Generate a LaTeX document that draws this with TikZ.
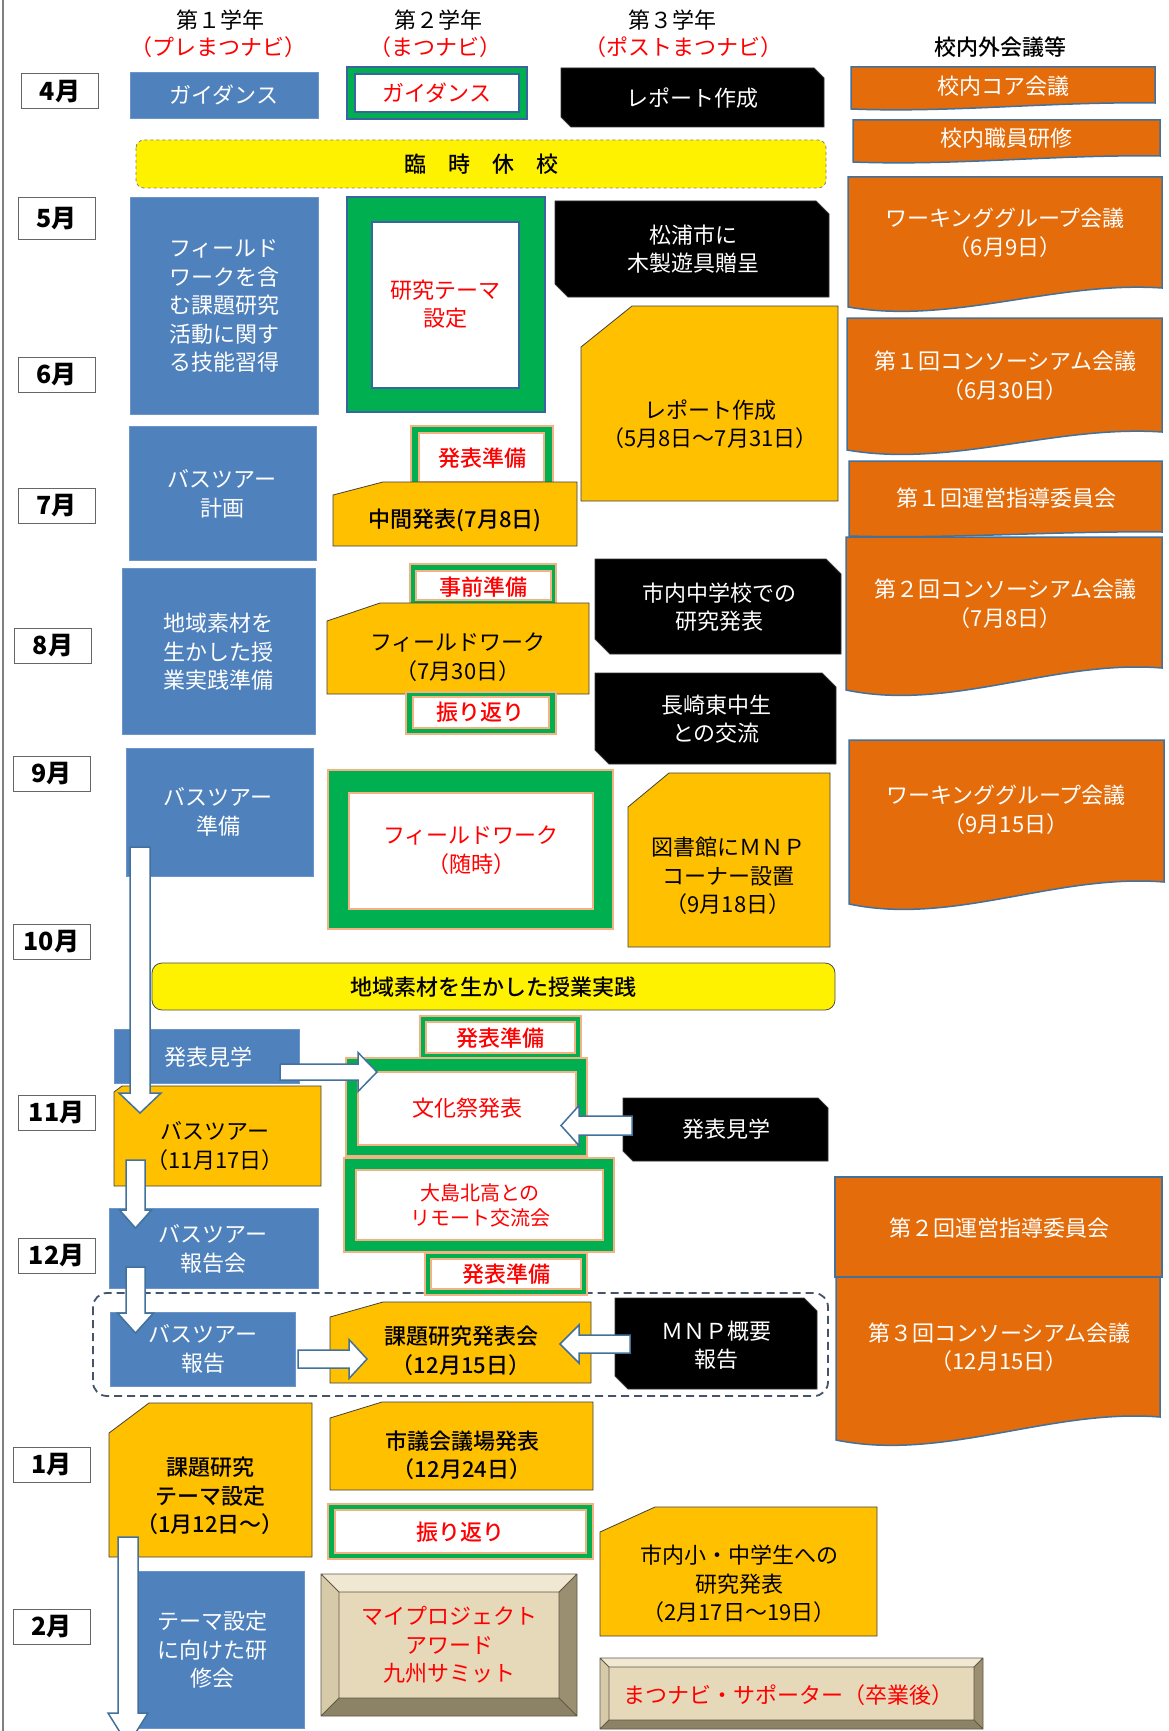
\documentclass[tikz,border=0pt]{standalone}
\usepackage{fontspec}
\setmainfont{Noto Sans CJK JP}[BoldFont={Noto Sans CJK JP Medium}]
\newfontfamily\monthfont{Noto Sans CJK JP}
\definecolor{bbox}{HTML}{4F81BD}
\definecolor{bline}{HTML}{6C95C8}
\definecolor{gfr}{HTML}{00B050}
\definecolor{ofr}{HTML}{F4B183}
\definecolor{navy}{HTML}{3A64A0}
\definecolor{ybox}{HTML}{FFC000}
\definecolor{obox}{HTML}{E46C0A}
\definecolor{oline}{HTML}{41719C}
\definecolor{arrline}{HTML}{41719C}
\definecolor{dashc}{HTML}{44546A}
\definecolor{redt}{HTML}{FF0000}
\definecolor{bvface}{HTML}{E6D9BA}
\definecolor{bvtop}{HTML}{F1E8D4}
\definecolor{bvleft}{HTML}{D7CAA8}
\definecolor{bvright}{HTML}{9A8F70}
\definecolor{bvbot}{HTML}{8C8265}
\definecolor{bvedge}{HTML}{5E5848}
\tikzset{
 txt/.style={align=center, inner sep=0pt, font=\fontsize{22}{28.5}\selectfont},
 wtxt/.style={txt, text=white},
 rtxt/.style={txt, text=redt},
 ktxt/.style={txt, text=black},
 boldf/.style={font=\fontsize{22}{28.5}\selectfont\bfseries},
 smallf/.style={font=\fontsize{20}{25}\selectfont},
 bluebox/.style={fill=bbox, draw=bline, line width=0.8pt},
 ybx/.style={fill=ybox, draw=black!75, line width=0.8pt},
 obx/.style={fill=obox, draw=oline, line width=1.5pt},
 snipk/.style={fill=black, draw=black!80, line width=0.8pt},
 blkarrow/.style={fill=white, draw=arrline, line width=1.5pt, line join=miter},
 monthbox/.style={draw=gray!80!black, line width=1pt, fill=white, minimum width=77, minimum height=35, inner sep=0pt, font=\monthfont\fontsize{25}{25}\selectfont\bfseries},
}
\newcommand\cutbox[6]{\filldraw[ybx] (#1,#2+#6) -- (#1+#5,#2) -- (#3,#2) -- (#3,#4) -- (#1,#4) -- cycle;}
\newcommand\snipbox[5]{\filldraw[snipk] (#1,#2) -- (#3-#5,#2) -- (#3,#2+#5) -- (#3,#4) -- (#1+#5,#4) -- (#1,#4-#5) -- cycle;}
\newcommand\wavebox[6]{\filldraw[obx] (#1,#2) -- (#3,#2) -- (#3,#5) .. controls ({#1+0.66*(#3-#1)},{#5-0.4*#6}) and ({#1+0.33*(#3-#1)},{#4+#6}) .. (#1,#4) -- cycle;}
\newcommand\gframe[9]{\filldraw[fill=gfr, draw=#9, line width=1.3pt] (#1,#2) rectangle (#3,#4);
 \filldraw[fill=white, draw=#9, line width=1.3pt] (#5,#6) rectangle (#7,#8);}
\newcommand\bevelbox[5]{%
 \fill[bvtop] (#1,#2) -- (#3,#2) -- (#3-#5,#2+#5) -- (#1+#5,#2+#5) -- cycle;
 \fill[bvbot] (#1,#4) -- (#3,#4) -- (#3-#5,#4-#5) -- (#1+#5,#4-#5) -- cycle;
 \fill[bvleft] (#1,#2) -- (#1+#5,#2+#5) -- (#1+#5,#4-#5) -- (#1,#4) -- cycle;
 \fill[bvright] (#3,#2) -- (#3-#5,#2+#5) -- (#3-#5,#4-#5) -- (#3,#4) -- cycle;
 \fill[bvface] (#1+#5,#2+#5) rectangle (#3-#5,#4-#5);
 \draw[bvedge, line width=0.8pt] (#1,#2) rectangle (#3,#4) (#1+#5,#2+#5) rectangle (#3-#5,#4-#5) (#1,#2) -- (#1+#5,#2+#5) (#3,#2) -- (#3-#5,#2+#5) (#1,#4) -- (#1+#5,#4-#5) (#3,#4) -- (#3-#5,#4-#5);}
\newcommand\dnarrow[6]{\filldraw[blkarrow] (#1-#3,#2) -- (#1+#3,#2) -- (#1+#3,#5) -- (#1+#4,#5) -- (#1,#6) -- (#1-#4,#5) -- (#1-#3,#5) -- cycle;}
\newcommand\hzarrow[6]{\filldraw[blkarrow] (#2,#1-#3) -- (#5,#1-#3) -- (#5,#1-#4) -- (#6,#1) -- (#5,#1+#4) -- (#5,#1+#3) -- (#2,#1+#3) -- cycle;}
\begin{document}
\begin{tikzpicture}[x=1pt,y=-1pt]
\useasboundingbox (0,0) rectangle (1168,1731);
\fill[white] (0,0) rectangle (1168,1731);
\draw[gray, line width=1.5pt] (3,0) -- (3,1731);

% headers
\node[ktxt] (h1) at (220,20) {第１学年};
\node[rtxt] (h1s) at (218,47) {（プレまつナビ）};
\node[ktxt] (h2) at (438,20) {第２学年};
\node[rtxt] (h2s) at (435,47) {（まつナビ）};
\node[ktxt] (h3) at (672,20) {第３学年};
\node[rtxt] (h3s) at (683,47) {（ポストまつナビ）};
\node[ktxt, boldf] (h4) at (1000,47) {校内外会議等};

% months
\node[monthbox] (m4) at (60,91.5) {4月};
\node[monthbox, minimum height=42] (m5) at (56.5,218.5) {5月};
\node[monthbox] (m6) at (56.5,374.5) {6月};
\node[monthbox] (m7) at (56.5,505.5) {7月};
\node[monthbox] (m8) at (53,645.5) {8月};
\node[monthbox] (m9) at (51.5,773.5) {9月};
\node[monthbox] (m10) at (51.5,941.5) {10月};
\node[monthbox] (m11) at (56.5,1113) {11月};
\node[monthbox] (m12) at (56.5,1255.5) {12月};
\node[monthbox] (m1) at (51.5,1465) {1月};
\node[monthbox] (m2) at (51.5,1626.5) {2月};

% dashed group
\draw[dashc, dash pattern=on 8pt off 5pt, line width=1.8pt, rounded corners=14pt] (93,1293) rectangle (828,1396);

% column 1
\filldraw[bluebox] (130,72) rectangle (318,118);
\node[wtxt] (a1) at (224,95) {ガイダンス};
\filldraw[bluebox] (130,197) rectangle (318,414);
\node[wtxt] (a2) at (224,306) {フィールド\\ワークを含\\む課題研究\\活動に関す\\る技能習得};
\filldraw[bluebox] (129,426) rectangle (316,560);
\node[wtxt] (a3) at (222,494) {バスツアー\\計画};
\filldraw[bluebox] (122,568) rectangle (315,734);
\node[wtxt] (a4) at (218,652) {地域素材を\\生かした授\\業実践準備};
\filldraw[bluebox] (126,748) rectangle (313,876);
\node[wtxt] (a5) at (218,812) {バスツアー\\準備};
\filldraw[bluebox] (114,1029) rectangle (299,1083);
\node[wtxt] (a6) at (208,1057) {発表見学};
\cutbox{114}{1086}{321}{1186}{8}{6}
\node[ktxt] (a7) at (215,1146) {バスツアー\\（11月17日）};
\filldraw[bluebox] (109,1208) rectangle (318,1288);
\node[wtxt] (a8) at (213,1249) {バスツアー\\報告会};
\filldraw[bluebox] (110,1312) rectangle (295,1386);
\node[wtxt] (a9) at (203,1349) {バスツアー\\報告};
\cutbox{109}{1403}{312}{1557}{40}{30}
\node[ktxt, boldf] (a10) at (210,1496) {課題研究\\テーマ設定\\（1月12日～）};
\filldraw[bluebox] (138,1571) rectangle (304,1728);
\node[wtxt] (a11) at (212,1650) {テーマ設定\\に向けた研\\修会};

% column 2
\gframe{347}{67}{527}{119}{355}{74}{519}{112}{navy}
\node[rtxt] (b1) at (437,93) {ガイダンス};
\filldraw[fill=yellow, draw=gray, dashed, line width=0.8pt, rounded corners=8pt] (136,140) rectangle (826,188);
\node[ktxt, boldf] (b0) at (481,164) {臨\hspace{22pt}時\hspace{22pt}休\hspace{22pt}校};
\gframe{347}{197}{545}{412}{372}{222}{519}{388}{navy}
\node[rtxt] (b2) at (445,304) {研究テーマ\\設定};
\gframe{411}{426}{553}{490}{419}{433}{544}{482}{ofr}
\node[rtxt, boldf] (b3) at (482,458) {発表準備};
\cutbox{333}{482}{577}{546}{50}{13}
\node[ktxt, boldf] (b4) at (455,520) {中間発表(7月8日)};
\gframe{410}{564}{556}{608}{416}{571}{551}{600}{ofr}
\node[rtxt, boldf] (b5) at (483,587) {事前準備};
\cutbox{327}{603}{589}{694}{53}{18}
\node[ktxt] (b6) at (458,657) {フィールドワーク\\（7月30日）};
\gframe{406}{692}{556}{734}{413}{697}{549}{728}{ofr}
\node[rtxt, boldf] (b7) at (480,712) {振り返り};
\gframe{328}{770}{613}{929}{349}{793}{593}{909}{ofr}
\node[rtxt] (b8) at (471,850) {フィールドワーク\\（随時）};
\filldraw[fill=yellow, draw=gray!60!black, line width=0.8pt, rounded corners=10pt] (152,963) rectangle (835,1010);
\node[ktxt, boldf] (b9) at (493,987) {地域素材を生かした授業実践};
\gframe{420}{1016}{581}{1058}{426}{1022}{575}{1053}{ofr}
\node[rtxt, boldf] (b10) at (500,1038) {発表準備};
\gframe{346}{1058}{587}{1156}{358}{1072}{576}{1145}{ofr}
\node[rtxt] (b11) at (467,1108) {文化祭発表};
\gframe{344}{1158}{614}{1252}{356}{1170}{603}{1240}{ofr}
\node[rtxt, smallf] (b12) at (480,1205) {大島北高との\\リモート交流会};
\gframe{425}{1253}{587}{1295}{431}{1259}{581}{1289}{ofr}
\node[rtxt, boldf] (b13) at (506,1274) {発表準備};
\cutbox{330}{1302}{591}{1383}{53}{15}
\node[ktxt, boldf] (b14) at (461,1351) {課題研究発表会\\（12月15日）};
\cutbox{330}{1402}{593}{1490}{52}{16}
\node[ktxt, boldf] (b15) at (462,1455) {市議会議場発表\\（12月24日）};
\gframe{328}{1504}{593}{1559}{335}{1510}{586}{1553}{ofr}
\node[rtxt, boldf] (b16) at (460,1532) {振り返り};
\bevelbox{321}{1574}{577}{1716}{18}
\node[rtxt] (b17) at (449,1645) {マイプロジェクト\\アワード\\九州サミット};

% column 3
\snipbox{561}{68}{824}{127}{10}
\node[wtxt] (c1) at (692,98) {レポート作成};
\snipbox{555}{201}{829}{297}{13}
\node[wtxt] (c2) at (693,249) {松浦市に\\木製遊具贈呈};
\cutbox{581}{306}{838}{501}{51}{41}
\node[ktxt] (c3) at (710,424) {レポート作成\\（5月8日～7月31日）};
\snipbox{595}{559}{841}{654}{15}
\node[wtxt] (c4) at (719,607) {市内中学校での\\研究発表};
\snipbox{595}{673}{836}{764}{14}
\node[wtxt] (c5) at (716,719) {長崎東中生\\との交流};
\cutbox{628}{773}{830}{947}{41}{34}
\node[ktxt] (c6) at (728,876) {図書館にＭＮＰ\\コーナー設置\\（9月18日）};
\snipbox{623}{1098}{828}{1161}{10}
\node[wtxt] (c7) at (726,1129) {発表見学};
\snipbox{615}{1298}{817}{1389}{13}
\node[wtxt] (c8) at (716,1345) {ＭＮＰ概要\\報告};
\cutbox{600}{1507}{877}{1636}{55}{25}
\node[ktxt] (c9) at (739,1584) {市内小・中学生への\\研究発表\\（2月17日～19日）};
\bevelbox{600}{1658}{983}{1729}{9}
\node[rtxt] (c10) at (788,1695) {まつナビ・サポーター（卒業後）};

% column 4
\wavebox{851}{67}{1155}{109}{103}{4}
\node[wtxt] (d1) at (1003,86) {校内コア会議};
\wavebox{853}{120}{1160}{162}{156}{4}
\node[wtxt] (d2) at (1006,138) {校内職員研修};
\wavebox{848}{177}{1162}{307}{288}{18}
\node[wtxt] (d3) at (1005,233) {ワーキンググループ会議\\（6月9日）};
\wavebox{847}{318}{1162}{450}{432}{18}
\node[wtxt] (d4) at (1005,376) {第１回コンソーシアム会議\\（6月30日）};
\wavebox{849}{461}{1162}{536}{532}{3}
\node[wtxt] (d5) at (1006,498) {第１回運営指導委員会};
\wavebox{846}{537}{1162}{690}{668}{22}
\node[wtxt] (d6) at (1005,604) {第２回コンソーシアム会議\\（7月8日）};
\wavebox{849}{740}{1164}{904}{882}{22}
\node[wtxt] (d7) at (1006,810) {ワーキンググループ会議\\（9月15日）};
\filldraw[obx] (835,1177) rectangle (1162,1277);
\node[wtxt] (d8) at (999,1228) {第２回運営指導委員会};
\wavebox{836}{1277}{1160}{1440}{1417}{22}
\node[wtxt] (d9) at (999,1347) {第３回コンソーシアム会議\\（12月15日）};

% block arrows
\dnarrow{140}{847}{10}{21}{1093}{1113}
\dnarrow{135.5}{1160}{9.5}{16}{1210}{1228}
\dnarrow{135.5}{1267}{9.5}{18}{1313}{1333}
\dnarrow{128}{1537}{10}{20}{1713}{1745}
\hzarrow{1072}{280}{8}{19.5}{358}{377}
\hzarrow{1125.5}{632}{9.5}{20}{579}{561}
\hzarrow{1359}{298}{9}{19.5}{349}{367}
\hzarrow{1344}{630}{9}{19}{579}{560}
\end{tikzpicture}
\end{document}
